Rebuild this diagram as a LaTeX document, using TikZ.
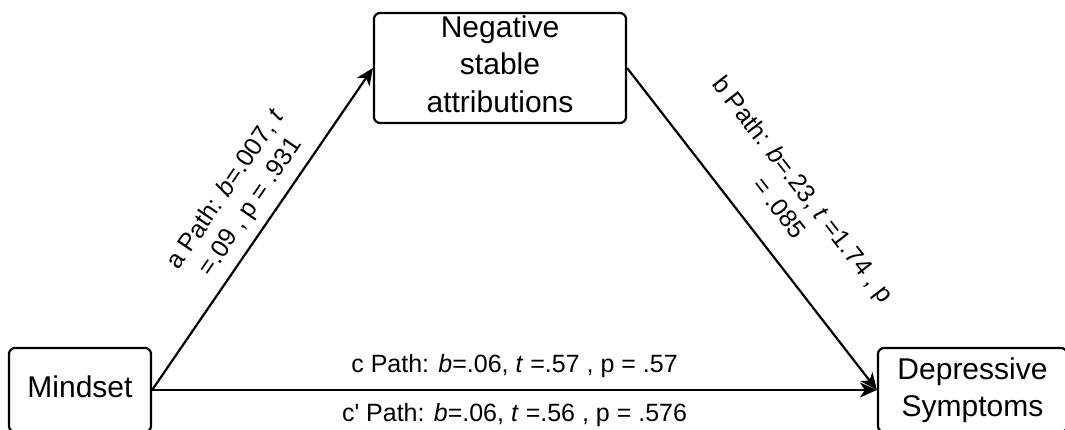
\documentclass[tikz,border=0pt]{standalone}
\usepackage{fontspec}
\setmainfont{Liberation Sans}
\usetikzlibrary{arrows.meta}
\begin{document}
\begin{tikzpicture}[x=1pt,y=-1pt,
  box/.style={draw=black, line width=2.2pt, rounded corners=6pt, align=center,
    inner sep=0pt, font=\fontsize{30}{37.5}\selectfont},
  conn/.style={line width=2.2pt, -{Stealth[length=17pt,width=15pt,inset=5pt]}},
  lbl/.style={inner sep=0pt, align=center, font=\fontsize{25}{30}\selectfont}]
\clip (0,0) rectangle (1065,429);
\node[box, minimum width=142pt, minimum height=84pt, text depth=7pt] (mind) at (80,390) {Mindset};
\node[box, minimum width=252pt, minimum height=110pt, text depth=8pt] (neg) at (500,68) {Negative\\stable\\attributions};
\node[box, minimum width=189pt, minimum height=84pt] (dep) at (972.5,390) {Depressive\\Symptoms};
\draw[conn] (mind.east) -- node[lbl, pos=0.53, sloped, above=9pt] {a Path: \textit{b}=.007, \textit{t}\\=.09 , p = .931} (neg.west);
\draw[conn] (neg.east) -- node[lbl, pos=0.5, sloped, above=25pt] {b Path: \textit{b}=.23, \textit{t} =1.74 , p\\= .085} (dep.west);
\draw[conn] (mind.east) -- node[lbl, midway, above=11pt] {c Path: \textit{b}=.06, \textit{t} =.57 , p = .57}
  node[lbl, midway, below=12pt] {c\textquotesingle{} Path: \textit{b}=.06, \textit{t} =.56 , p = .576} (dep.west);
\end{tikzpicture}
\end{document}
